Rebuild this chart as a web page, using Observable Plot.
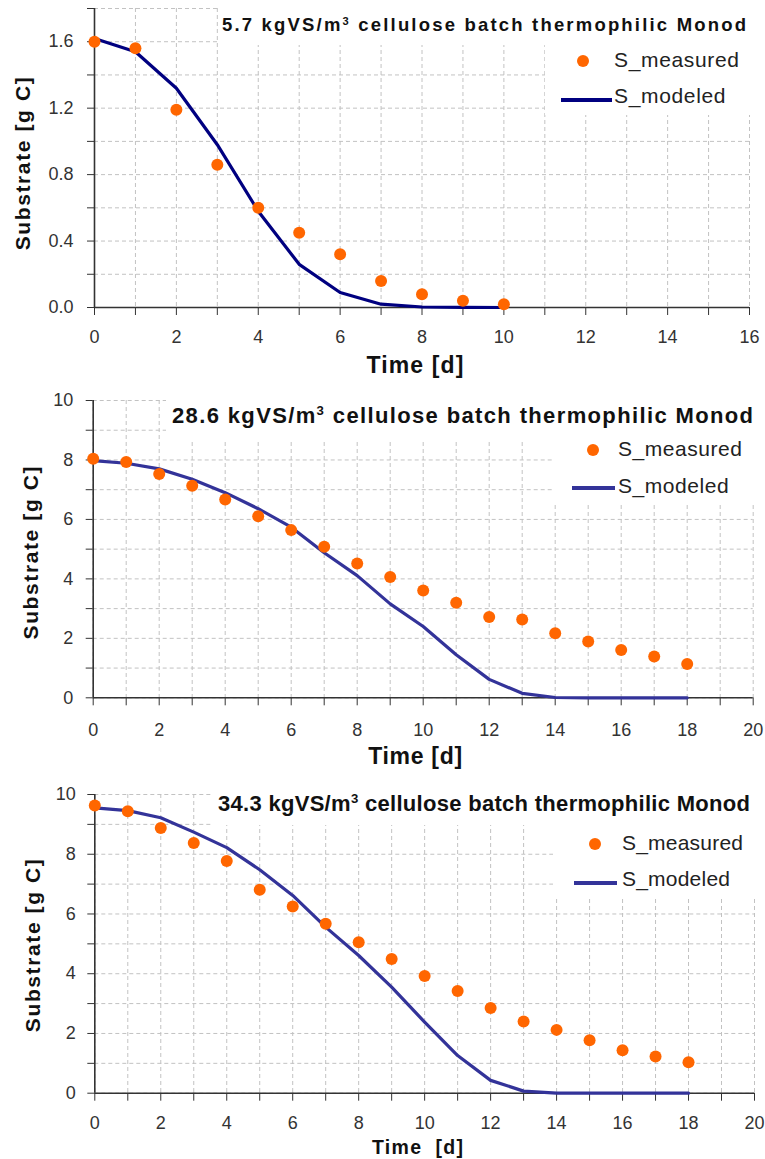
<!DOCTYPE html>
<html><head><meta charset="utf-8">
<script src="https://cdn.jsdelivr.net/npm/d3@7"></script>
<script src="https://cdn.jsdelivr.net/npm/@observablehq/plot@0.6"></script>
<style>
body{margin:0;background:#fff;}
#wrap{position:relative;width:765px;height:1159px;overflow:hidden;font-family:"Liberation Sans",Arial,sans-serif;background:#fff;}
.panel{position:absolute;left:0;}
.box{position:absolute;background:#fff;}
.title{position:absolute;font-weight:bold;white-space:nowrap;color:#111;line-height:1;}
.title sup{font-size:0.6em;position:relative;top:-0.55em;vertical-align:baseline;line-height:0;}
.leg{position:absolute;white-space:nowrap;color:#222;line-height:1;font-size:21px;}
.ldot{position:absolute;border-radius:50%;background:#FF6600;}
.lline{position:absolute;}
</style>
</head><body><div id="wrap"></div>
<script>
// ---- data ----
const days1 = [0,1,2,3,4,5,6,7,8,9,10];
const measured1 = [1.60,1.56,1.19,0.86,0.60,0.45,0.32,0.16,0.08,0.04,0.02];
const modeled1  = [1.62,1.54,1.32,0.98,0.58,0.26,0.09,0.02,0.003,0.001,0.0];

const days2 = [0,1,2,3,4,5,6,7,8,9,10,11,12,13,14,15,16,17,18];
const measured2 = [8.04,7.93,7.53,7.13,6.67,6.11,5.64,5.08,4.52,4.06,3.61,3.20,2.72,2.63,2.17,1.89,1.61,1.39,1.14];
const modeled2  = [7.98,7.89,7.70,7.35,6.90,6.36,5.74,4.88,4.11,3.16,2.40,1.45,0.62,0.15,0.01,0,0,0,0];

const days3 = [0,1,2,3,4,5,6,7,8,9,10,11,12,13,14,15,16,17,18];
const measured3 = [9.63,9.44,8.88,8.38,7.77,6.81,6.25,5.67,5.05,4.49,3.92,3.42,2.85,2.40,2.12,1.77,1.44,1.23,1.04];
const modeled3  = [9.55,9.46,9.22,8.74,8.22,7.48,6.62,5.56,4.61,3.55,2.38,1.26,0.43,0.07,0,0,0,0,0];

const titles = [
  ["5.7 kgVS/m", "3", " cellulose batch thermophilic Monod"],
  ["28.6 kgVS/m", "3", " cellulose batch thermophilic Monod"],
  ["34.3 kgVS/m", "3", " cellulose batch thermophilic Monod"]
];
const xTitles = ["Time [d]", "Time [d]", "Time  [d]"];
const yTitle = "Substrate [g C]";
const legendLabels = ["S_measured", "S_modeled"];

// ---- layout ----
const FONT = '"Liberation Sans", Arial, sans-serif';
const ctx = document.createElement("canvas").getContext("2d");
function spacing(text, font, target) {
  ctx.font = font;
  const w = ctx.measureText(text).width;
  return (target - w) / Math.max(1, text.length - 1);
}

const panels = [
  {top:0, height:385, mt:8, mb:78, ml:94, mr:16, days:days1, meas:measured1, model:modeled1,
   xMax:16, yMax:1.8, yStep:0.2, yLabelStep:0.4, yFmt:d3.format(".1f"), lineColor:"#000080",
   xTickPad:23, yTickPad:14, xTitleDx:-6.5, xTitleDy:58, xTitleSize:23, xTitleW:97,
   yTitleDx:-71, yTitleDy:5,
   title:{left:222, right:746, cy:25, size:18.5},
   boxes:[[219,0,546,45],[545,45,220,70]],
   legend:{dot:[583,61], t1:[614,58.5,125], line:[561,612,99.5], t2:[614,94.5]}},
  {top:385, height:390, mt:15, mb:77.7, ml:92.7, mr:12.3, days:days2, meas:measured2, model:modeled2,
   xMax:20, yMax:10, yStep:1, yLabelStep:2, yFmt:d3.format("d"), lineColor:"#333399",
   xTickPad:25, yTickPad:13, xTitleDx:-7.7, xTitleDy:58.7, xTitleSize:23, xTitleW:94,
   yTitleDx:-62, yTitleDy:3,
   title:{left:172, right:753, cy:415, size:22},
   boxes:[[166,385,599,55],[552,440,213,65]],
   legend:{dot:[593,450], t1:[618,448,124], line:[572,615,488], t2:[618,485]}},
  {top:775, height:384, mt:19, mb:66.3, ml:94.3, mr:11, days:days3, meas:measured3, model:modeled3,
   xMax:20, yMax:10, yStep:1, yLabelStep:2, yFmt:d3.format("d"), lineColor:"#333399",
   xTickPad:23, yTickPad:12, xTitleDx:-6.5, xTitleDy:54.3, xTitleSize:19.5, xTitleW:91,
   yTitleDx:-62, yTitleDy:1,
   title:{left:218, right:750, cy:803, size:22},
   boxes:[[213,775,552,50],[553,825,212,73]],
   legend:{dot:[595,844], t1:[622,842,121], line:[574,617,883], t2:[622,878]}}
];

const wrap = document.getElementById("wrap");

panels.forEach((p, k) => {
  const data = p.days.map((d, i) => ({day: d, meas: p.meas[i], model: p.model[i]}));
  const xTicks = d3.range(0, p.xMax + 1);
  const xLabels = d3.range(0, p.xMax + 1, 2);
  const nY = Math.round(p.yMax / p.yStep);
  const yTicks = d3.range(0, nY + 1).map(i => +(i * p.yStep).toFixed(3));
  const nL = Math.round(p.yMax / p.yLabelStep);
  const yLabels = d3.range(0, nL + 1).map(i => +(i * p.yLabelStep).toFixed(3)).filter(v => v <= p.yMax + 1e-9);
  const xt = xTitles[k];
  const xtLS = spacing(xt, `bold ${p.xTitleSize}px ${FONT}`, p.xTitleW);
  const ytLS = spacing(yTitle, `bold 21px ${FONT}`, 173);

  const svg = Plot.plot({
    width: 765, height: p.height,
    marginTop: p.mt, marginBottom: p.mb, marginLeft: p.ml, marginRight: p.mr,
    x: {domain: [0, p.xMax]},
    y: {domain: [0, p.yMax]},
    style: {fontFamily: FONT, background: "white", overflow: "visible", color: "#333"},
    marks: [
      Plot.gridX(xTicks, {stroke: "#c2c2c2", strokeOpacity: 1, strokeDasharray: "4,3"}),
      Plot.gridY(yTicks, {stroke: "#c2c2c2", strokeOpacity: 1, strokeDasharray: "4,3"}),
      Plot.axisX(xTicks, {tickSize: 8, tickFormat: () => "", label: null, stroke: "#333"}),
      Plot.axisX(xLabels, {tickSize: 0, tickPadding: p.xTickPad, fontSize: 18, fill: "#333", label: null}),
      Plot.axisY(yTicks, {tickSize: 7, tickFormat: () => "", label: null, stroke: "#333"}),
      Plot.axisY(yLabels, {tickSize: 0, tickPadding: 7 + p.yTickPad, tickFormat: p.yFmt, fontSize: 18, fill: "#333", label: null}),
      Plot.ruleY([0], {stroke: "#333", strokeWidth: 1.6}),
      Plot.ruleX([0], {stroke: "#333", strokeWidth: 1.6}),
      Plot.line(data, {x: "day", y: "model", stroke: p.lineColor, strokeWidth: 3.2}),
      Plot.dot(data, {x: "day", y: "meas", r: 6, fill: "#FF6600", stroke: "none"}),
      Plot.text([xt], {frameAnchor: "bottom", textAnchor: "middle", lineAnchor: "middle", dx: p.xTitleDx, dy: p.xTitleDy, fontWeight: "bold", fontSize: p.xTitleSize, fill: "#111"}),
      Plot.text([yTitle], {frameAnchor: "left", textAnchor: "middle", lineAnchor: "middle", dx: p.yTitleDx, dy: p.yTitleDy, rotate: -90, fontWeight: "bold", fontSize: 21, fill: "#111"})
    ]
  });
  svg.classList.add("panel");
  svg.style.top = p.top + "px";
  d3.select(svg).selectAll("text").each(function() {
    const t = this.textContent;
    if (t === xt) { d3.select(this).style("letter-spacing", xtLS + "px").style("white-space", "pre"); }
    if (t === yTitle) { d3.select(this).style("letter-spacing", ytLS + "px"); }
  });
  wrap.appendChild(svg);

  // white boxes behind title and legend
  p.boxes.forEach(([x, y, w, h]) => {
    const b = document.createElement("div");
    b.className = "box";
    Object.assign(b.style, {left: x + "px", top: y + "px", width: w + "px", height: h + "px"});
    wrap.appendChild(b);
  });

  // title
  const tt = titles[k];
  const t = document.createElement("div");
  t.className = "title";
  t.style.fontSize = p.title.size + "px";
  t.innerHTML = `${tt[0]}<sup>${tt[1]}</sup>${tt[2]}`;
  t.style.left = p.title.left + "px";
  t.style.top = (p.title.cy - 0.473 * p.title.size) + "px";
  wrap.appendChild(t);
  const w0 = t.getBoundingClientRect().width;
  const n = (tt[0] + tt[1] + tt[2]).length;
  t.style.letterSpacing = ((p.title.right - p.title.left - w0) / (n - 1)) + "px";

  // legend
  const L = p.legend;
  const dot = document.createElement("div");
  dot.className = "ldot";
  Object.assign(dot.style, {left: (L.dot[0] - 6) + "px", top: (L.dot[1] - 6) + "px", width: "12px", height: "12px"});
  wrap.appendChild(dot);
  const ln = document.createElement("div");
  ln.className = "lline";
  Object.assign(ln.style, {left: L.line[0] + "px", top: (L.line[2] - 2) + "px", width: (L.line[1] - L.line[0]) + "px", height: "4px", background: p.lineColor});
  wrap.appendChild(ln);
  const ls = spacing(legendLabels[0], `21px ${FONT}`, L.t1[2]);
  [[legendLabels[0], L.t1], [legendLabels[1], L.t2]].forEach(([s, pos]) => {
    const e = document.createElement("div");
    e.className = "leg";
    e.textContent = s;
    e.style.letterSpacing = ls + "px";
    e.style.left = pos[0] + "px";
    e.style.top = (pos[1] - 0.473 * 21) + "px";
    wrap.appendChild(e);
  });
});
</script>
</body></html>
